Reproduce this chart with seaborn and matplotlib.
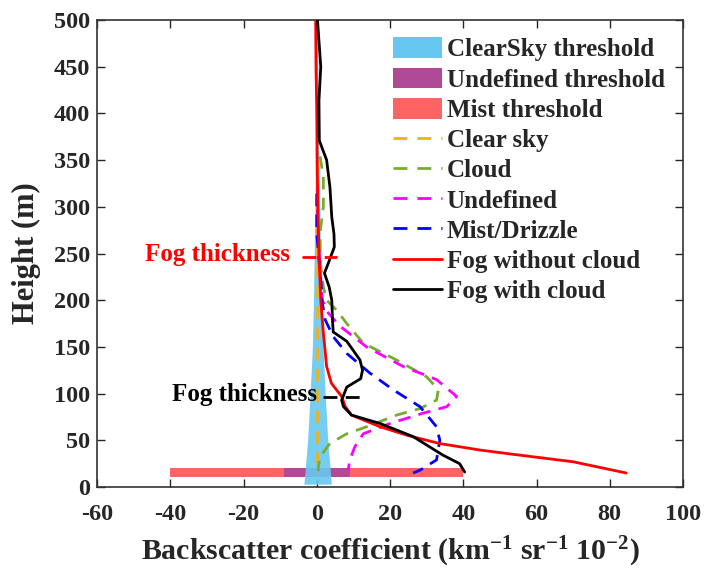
import numpy as np
import pandas as pd
import matplotlib
matplotlib.use("Agg")
import matplotlib.pyplot as plt
import seaborn as sns
from matplotlib.patches import Patch
from matplotlib.lines import Line2D

# ---------------- data ----------------
red_h = [500, 450, 400, 350, 300, 272, 250, 200, 165, 129, 111, 97, 86, 77, 64.5, 55, 46.5, 39.6, 35, 27, 15]
red_x = [-0.3, -0.2, 0.0, 0.1, 0.3, 0.45, 0.6, 1.1, 1.8, 2.7, 4.0, 6.8, 7.8, 9.5, 17.3, 25.0, 33.6, 44.5, 53.6, 70.0, 84.5]

black_h = [500, 450, 414, 371, 350, 321, 289, 271, 257, 240, 229, 214, 200, 179, 166, 156, 136, 125, 116, 107, 93, 86, 77, 68, 54, 34, 25, 16]
black_x = [0.2, 1.1, 0.6, 0.7, 2.7, 3.6, 4.1, 4.7, 4.8, 3.2, 2.1, 3.4, 4.1, 4.3, 4.5, 8.2, 11.8, 12.5, 12.0, 8.2, 6.8, 7.3, 9.5, 17.3, 26.3, 34.5, 39.0, 40.4]

green_h = [354, 332, 300, 272, 240, 214, 200, 189, 175, 154, 136, 118, 104, 93, 84, 77, 64.5, 57, 46.7, 32.4, 21.7, 17]
green_x = [0.9, 1.8, 1.8, 0.9, 1.0, 1.8, 2.7, 5.5, 8.2, 12.7, 21.8, 30.0, 33.2, 32.7, 28.2, 21.8, 13.6, 8.2, 3.6, 0.9, 0.45, 0.4]

mag_h = [320, 280, 240, 200, 186, 172, 150, 129, 115, 97, 86, 79, 68, 57, 43, 29, 18]
mag_x = [0.2, 0.3, 0.8, 1.5, 3.2, 6.4, 13.6, 23.6, 32.7, 38.2, 35.5, 29.0, 20.0, 12.7, 10.4, 9.0, 8.6]

blue_h = [314, 272, 229, 207, 200, 179, 161, 143, 122, 104, 86, 64.5, 50, 29, 18, 15]
blue_x = [0.0, 0.0, 0.9, 1.4, 1.4, 2.3, 4.5, 8.2, 14.5, 20.9, 28.2, 32.7, 33.6, 32.7, 28.2, 26.3]

orange_h = [350, 300, 250, 200, 150, 100, 50, 15]
orange_x = [0.0, 0.0, 0.0, 0.0, 0.0, 0.0, 0.0, 0.0]

band_h = [3, 50, 100, 150, 200, 300, 400, 500]
band_lo = [-3.5, -2.5, -1.8, -1.2, -0.9, -0.5, -0.3, -0.1]
band_hi = [4.0, 3.0, 2.3, 1.7, 1.3, 0.8, 0.4, 0.1]

thr_h = [11, 20]
mist_range = [-40, 40]
undef_range = [-9, 9]

thick_red = {"y": 246.5, "x": [-4.1, 5.5]}
thick_black = {"y": 96.7, "x": [1.8, 12.3]}

# ---------------- style ----------------
sns.set_style("ticks")
plt.rcParams["font.family"] = ["Liberation Serif", "DejaVu Serif"]
plt.rcParams["font.weight"] = "bold"
plt.rcParams["axes.labelweight"] = "bold"
plt.rcParams["axes.unicode_minus"] = False
plt.rcParams["mathtext.fontset"] = "custom"
plt.rcParams["mathtext.rm"] = "Liberation Serif:bold"
plt.rcParams["mathtext.bf"] = "Liberation Serif:bold"
plt.rcParams["mathtext.it"] = "Liberation Serif:bold"
plt.rcParams["mathtext.default"] = "bf"

fig = plt.figure(figsize=(7.07, 5.73), dpi=100)
ax = fig.add_axes([97 / 707, 1 - 487 / 573, 586 / 707, 467 / 573])

c_band = "#66C8F0"
c_undef = "#B04A96"
c_mist = "#FF6464"

ax.fill_betweenx(thr_h, mist_range[0], mist_range[1], color=c_mist, lw=0, zorder=1)
ax.fill_betweenx(thr_h, undef_range[0], undef_range[1], color=c_undef, lw=0, zorder=1.1)
ax.fill_betweenx(band_h, band_lo, band_hi, color=c_band, alpha=0.9, lw=0, zorder=1.2)

dash = (4.5, 3)
series = [
    (orange_x, orange_h, "#EDB120", "--", "Clear sky"),
    (green_x, green_h, "#77AC30", "--", "Cloud"),
    (mag_x, mag_h, "#FF00FF", "--", "Undefined"),
    (blue_x, blue_h, "#0000FF", "--", "Mist/Drizzle"),
    (red_x, red_h, "#FF0000", "-", "Fog without cloud"),
    (black_x, black_h, "#000000", "-", "Fog with cloud"),
]
for xs, hs, col, ls, lab in series:
    df = pd.DataFrame({"x": xs, "h": hs})
    sns.lineplot(data=df, x="x", y="h", sort=False, orient="y", estimator=None,
                 errorbar=None, ax=ax, color=col, lw=2, zorder=3)
    if ls == "--":
        ax.lines[-1].set_dashes(dash)

# fog thickness markers
ax.plot(thick_red["x"], [thick_red["y"]] * 2, color="#FF0000", lw=2, dashes=(5, 3), zorder=4)
ax.text(-7.2, thick_red["y"] + 2, "Fog thickness", color="#FF0000", fontsize=18,
        fontweight="bold", ha="right", va="center")
ax.plot(thick_black["x"], [thick_black["y"]] * 2, color="#000000", lw=2, dashes=(5, 3), zorder=4)
ax.text(0.0, thick_black["y"] + 2, "Fog thickness", color="#000000", fontsize=18,
        fontweight="bold", ha="right", va="center")

ax.set_xlim(-60, 100)
ax.set_ylim(0, 500)
ax.set_xticks(np.arange(-60, 101, 20))
ax.set_yticks(np.arange(0, 501, 50))
ax.tick_params(direction="in", length=6, width=1, top=True, right=True,
               labelsize=17.5)
ax.tick_params(axis="x", pad=12)
ax.tick_params(axis="y", pad=5)
for lbl in ax.get_xticklabels() + ax.get_yticklabels():
    lbl.set_fontweight("bold")
for s in ax.spines.values():
    s.set_linewidth(1.2)
    s.set_color("#333333")

ax.set_xlabel(r"Backscatter coefficient (km$^{-1}$ sr$^{-1}$ 10$^{-2}$)", fontsize=21.5,
              fontweight="bold", labelpad=7)
ax.set_ylabel("Height (m)", fontsize=22, fontweight="bold", labelpad=9)

handles = [
    Patch(facecolor=c_band, edgecolor="none", label="ClearSky threshold"),
    Patch(facecolor=c_undef, edgecolor="none", label="Undefined threshold"),
    Patch(facecolor=c_mist, edgecolor="none", label="Mist threshold"),
]
for xs, hs, col, ls, lab in series:
    if ls == "--":
        handles.append(Line2D([], [], color=col, lw=2, dashes=(5, 3.6), label=lab))
    else:
        handles.append(Line2D([], [], color=col, lw=2, label=lab))

leg = ax.legend(handles=handles, loc="upper right", bbox_to_anchor=(0.969, 0.963),
                frameon=False, fontsize=18, borderpad=0, borderaxespad=0,
                handlelength=1.95, handleheight=0.9, handletextpad=0.2,
                labelspacing=0.25)
for t in leg.get_texts():
    t.set_fontweight("bold")

fig.savefig("out.png", dpi=100)
